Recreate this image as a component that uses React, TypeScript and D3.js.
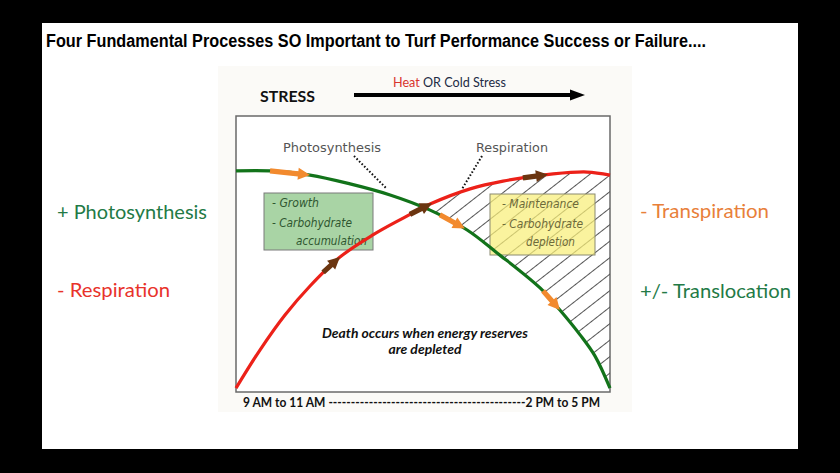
import React, { useEffect, useRef } from 'react';
import * as d3 from 'd3';

const W = 840;
const H = 473;

// Relative time of day (0 = 9–11 AM, 100 = 2–5 PM) and relative process rate (0–100)
const photosynthesisX = [0, 9.1, 19.8, 30.5, 41.2, 51.9, 61.8, 69.8, 81.3, 86.6, 92.0, 96.0, 100];
const photosynthesisY = [80.1, 80.1, 78.6, 75.4, 71.4, 65.9, 58.7, 50.4, 37.7, 29.7, 20.7, 13.0, 1.4];
const respirationX = [0, 6.4, 13.1, 19.8, 27.8, 36.6, 44.7, 51.9, 62.6, 71.4, 84.8, 93.9, 100];
const respirationY = [1.4, 15.2, 27.9, 38.4, 48.9, 56.9, 63.0, 68.1, 73.6, 76.4, 79.0, 79.7, 78.6];

// Flow arrows along the curves: which curve, start and end (relative time)
const arrowCurve = ['photo', 'resp', 'resp', 'photo', 'photo', 'resp'];
const arrowFrom = [9.1, 23.3, 46.5, 54.5, 82.1, 76.7];
const arrowTo = [19.8, 27.8, 52.4, 61.2, 86.6, 83.4];
const arrowKind = ['orange', 'brown', 'brown', 'orange', 'orange', 'brown'];

const sideLabelsLeft = ['+ Photosynthesis', '- Respiration'];
const sideLabelsRight = ['- Transpiration', '+/- Translocation'];
const growthLines = ['- Growth', '- Carbohydrate', 'accumulation'];
const maintLines = ['- Maintenance', '- Carbohydrate', 'depletion'];

export default function App() {
  const ref = useRef<SVGSVGElement>(null);

  useEffect(() => {
    const svg = d3.select(ref.current);
    svg.selectAll('*').remove();

    const xScale = d3.scaleLinear().domain([0, 100]).range([236, 610]);
    const yScale = d3.scaleLinear().domain([0, 100]).range([392, 116]);
    const curve = d3.curveCatmullRom.alpha(0.5);

    const photo: [number, number][] = photosynthesisX.map((x, i) => [x, photosynthesisY[i]]);
    const resp: [number, number][] = respirationX.map((x, i) => [x, respirationY[i]]);

    const defs = svg.append('defs');
    const pat = defs
      .append('pattern')
      .attr('id', 'hatch')
      .attr('patternUnits', 'userSpaceOnUse')
      .attr('width', 13)
      .attr('height', 13)
      .attr('patternTransform', 'rotate(-38)');
    pat.append('line').attr('x1', 0).attr('x2', 13).attr('y1', 6.5).attr('y2', 6.5)
      .attr('stroke', '#555').attr('stroke-width', 1);

    const areaUnder = d3.area<[number, number]>()
      .x(d => xScale(d[0])).y0(yScale(0)).y1(d => yScale(d[1])).curve(curve);
    const areaAbove = d3.area<[number, number]>()
      .x(d => xScale(d[0])).y0(yScale(100)).y1(d => yScale(d[1])).curve(curve);
    defs.append('clipPath').attr('id', 'underResp').append('path').attr('d', areaUnder(resp) as string);
    defs.append('clipPath').attr('id', 'abovePhoto').append('path').attr('d', areaAbove(photo) as string);

    // background
    svg.append('rect').attr('width', W).attr('height', H).attr('fill', '#000');
    svg.append('rect').attr('x', 42).attr('y', 23).attr('width', 756).attr('height', 426).attr('fill', '#fff');
    svg.append('rect').attr('x', 218).attr('y', 66).attr('width', 414).attr('height', 346).attr('fill', '#fbfaf7');

    // title
    svg.append('text').attr('x', 46).attr('y', 47)
      .attr('font-family', '"Liberation Sans Narrow", "Liberation Sans", sans-serif')
      .attr('font-weight', 'bold').attr('font-size', 18)
      .attr('textLength', 660).attr('lengthAdjust', 'spacingAndGlyphs')
      .attr('fill', '#000')
      .text('Four Fundamental Processes SO Important to Turf Performance Success or Failure....');

    // STRESS header + arrow
    svg.append('text').attr('x', 260).attr('y', 102)
      .attr('font-family', 'Lato, sans-serif').attr('font-weight', 'bold').attr('font-size', 16)
      .attr('textLength', 55).attr('lengthAdjust', 'spacingAndGlyphs').attr('fill', '#111').text('STRESS');
    const ht = svg.append('text').attr('x', 393).attr('y', 87)
      .attr('font-family', 'Lato, sans-serif').attr('font-size', 12.5)
      .attr('textLength', 113).attr('lengthAdjust', 'spacingAndGlyphs');
    ht.append('tspan').attr('fill', '#d8352e').text('Heat');
    ht.append('tspan').attr('fill', '#222a44').text(' OR Cold Stress');
    svg.append('line').attr('x1', 354).attr('x2', 572).attr('y1', 95).attr('y2', 95)
      .attr('stroke', '#000').attr('stroke-width', 4);
    svg.append('path').attr('d', 'M570,89.5 L585,95 L570,100.5 Z').attr('fill', '#000');

    // plot box
    svg.append('rect')
      .attr('x', xScale(0)).attr('y', yScale(100))
      .attr('width', xScale(100) - xScale(0)).attr('height', yScale(0) - yScale(100))
      .attr('fill', '#fff').attr('stroke', '#6a6a6a').attr('stroke-width', 1.5);

    // hatched deficit region
    svg.append('g').attr('clip-path', 'url(#underResp)')
      .append('rect')
      .attr('clip-path', 'url(#abovePhoto)')
      .attr('x', xScale(0)).attr('y', yScale(100))
      .attr('width', xScale(100) - xScale(0)).attr('height', yScale(0) - yScale(100))
      .attr('fill', 'url(#hatch)');

    // info boxes
    svg.append('rect').attr('x', 264).attr('y', 193).attr('width', 109).attr('height', 57)
      .attr('fill', '#a9d4a5').attr('stroke', '#7a7a7a').attr('stroke-width', 1);
    svg.append('rect').attr('x', 490).attr('y', 194).attr('width', 105).attr('height', 61)
      .attr('fill', 'rgba(248,238,120,0.72)').attr('stroke', '#8a8a70').attr('stroke-width', 1);

    const hand = '"DejaVu Sans", sans-serif';
    const gx = [272, 272, 296];
    const gy = [207, 227, 245];
    const gw = [47, 80, 71];
    growthLines.forEach((t, i) => {
      svg.append('text').attr('x', gx[i]).attr('y', gy[i]).attr('font-family', hand)
        .attr('font-style', 'italic').attr('font-size', 11.5).attr('fill', '#2f5630')
        .attr('textLength', gw[i]).attr('lengthAdjust', 'spacingAndGlyphs').text(t);
    });
    const mx = [502, 502, 526];
    const mw = [77, 81, 49];
    maintLines.forEach((t, i) => {
      svg.append('text').attr('x', mx[i]).attr('y', gy[i] + 1).attr('font-family', hand)
        .attr('font-style', 'italic').attr('font-size', 11.5).attr('fill', '#6d6a3a')
        .attr('textLength', mw[i]).attr('lengthAdjust', 'spacingAndGlyphs').text(t);
    });

    // curves
    const line = d3.line<[number, number]>().x(d => xScale(d[0])).y(d => yScale(d[1])).curve(curve);
    const photoPath = svg.append('path').attr('d', line(photo) as string)
      .attr('fill', 'none').attr('stroke', '#12731a').attr('stroke-width', 3.2);
    const respPath = svg.append('path').attr('d', line(resp) as string)
      .attr('fill', 'none').attr('stroke', '#ec2119').attr('stroke-width', 3.2);

    const pointAtX = (node: SVGPathElement, xv: number) => {
      const target = xScale(xv);
      let lo = 0;
      let hi = node.getTotalLength();
      for (let k = 0; k < 40; k++) {
        const mid = (lo + hi) / 2;
        if (node.getPointAtLength(mid).x < target) lo = mid; else hi = mid;
      }
      const p = node.getPointAtLength(lo);
      return [p.x, p.y];
    };

    arrowCurve.forEach((c, i) => {
      const node = (c === 'photo' ? photoPath : respPath).node() as SVGPathElement;
      const [x0, y0] = pointAtX(node, arrowFrom[i]);
      const [x1, y1] = pointAtX(node, arrowTo[i]);
      const dx = x1 - x0;
      const dy = y1 - y0;
      const len = Math.hypot(dx, dy);
      const ux = dx / len;
      const uy = dy / len;
      const nx = -uy;
      const ny = ux;
      const head = Math.min(12, len * 0.55);
      const hw = 6;
      const sw = 2.6;
      const bx = x1 - ux * head;
      const by = y1 - uy * head;
      const pts = [
        [x0 + nx * sw, y0 + ny * sw],
        [bx + nx * sw, by + ny * sw],
        [bx + nx * hw, by + ny * hw],
        [x1, y1],
        [bx - nx * hw, by - ny * hw],
        [bx - nx * sw, by - ny * sw],
        [x0 - nx * sw, y0 - ny * sw],
      ];
      svg.append('path').attr('d', 'M' + pts.map(p => p.join(',')).join('L') + 'Z')
        .attr('fill', arrowKind[i] === 'orange' ? '#f28a2e' : '#6b3510');
    });

    // curve labels and leaders
    svg.append('text').attr('x', 283).attr('y', 152).attr('font-family', hand).attr('font-size', 12)
      .attr('fill', '#555').attr('textLength', 98).attr('lengthAdjust', 'spacingAndGlyphs').text('Photosynthesis');
    svg.append('text').attr('x', 476).attr('y', 152).attr('font-family', hand).attr('font-size', 12)
      .attr('fill', '#555').attr('textLength', 72).attr('lengthAdjust', 'spacingAndGlyphs').text('Respiration');
    svg.append('line').attr('x1', 354).attr('y1', 156).attr('x2', 387).attr('y2', 189)
      .attr('stroke', '#111').attr('stroke-width', 2).attr('stroke-dasharray', '1.6,2');
    svg.append('line').attr('x1', 482).attr('y1', 156).attr('x2', 462).attr('y2', 189)
      .attr('stroke', '#111').attr('stroke-width', 2).attr('stroke-dasharray', '1.6,2');

    // death note
    const note = ['Death occurs when energy reserves', 'are depleted'];
    note.forEach((t, i) => {
      svg.append('text').attr('x', 425).attr('y', 338 + i * 16).attr('text-anchor', 'middle')
        .attr('font-family', 'Lato, sans-serif').attr('font-weight', 'bold').attr('font-style', 'italic')
        .attr('font-size', 12.5).attr('fill', '#111')
        .attr('textLength', i === 0 ? 206 : 73).attr('lengthAdjust', 'spacingAndGlyphs').text(t);
    });

    // time axis label
    svg.append('text').attr('x', 243).attr('y', 407)
      .attr('font-family', 'Lato, sans-serif').attr('font-weight', 'bold').attr('font-size', 13)
      .attr('fill', '#111').attr('textLength', 357).attr('lengthAdjust', 'spacingAndGlyphs')
      .text('9 AM to 11 AM --------------------------------------------2 PM to 5 PM');

    // side labels
    const sideFont = 'Lato, sans-serif';
    const lc = ['#237a46', '#e8322a'];
    const lw = [150, 113];
    sideLabelsLeft.forEach((t, i) => {
      svg.append('text').attr('x', 57).attr('y', 219 + i * 78).attr('font-family', sideFont)
        .attr('font-size', 20).attr('fill', lc[i]).attr('textLength', lw[i])
        .attr('lengthAdjust', 'spacingAndGlyphs').text(t);
    });
    const rc = ['#e8803a', '#237a46'];
    const rw = [129, 151];
    sideLabelsRight.forEach((t, i) => {
      svg.append('text').attr('x', 640).attr('y', 218 + i * 80).attr('font-family', sideFont)
        .attr('font-size', 20).attr('fill', rc[i]).attr('textLength', rw[i])
        .attr('lengthAdjust', 'spacingAndGlyphs').text(t);
    });
  }, []);

  return (
    <svg
      ref={ref}
      width={W}
      height={H}
      style={{ position: 'absolute', left: 0, top: 0, display: 'block' }}
    />
  );
}
